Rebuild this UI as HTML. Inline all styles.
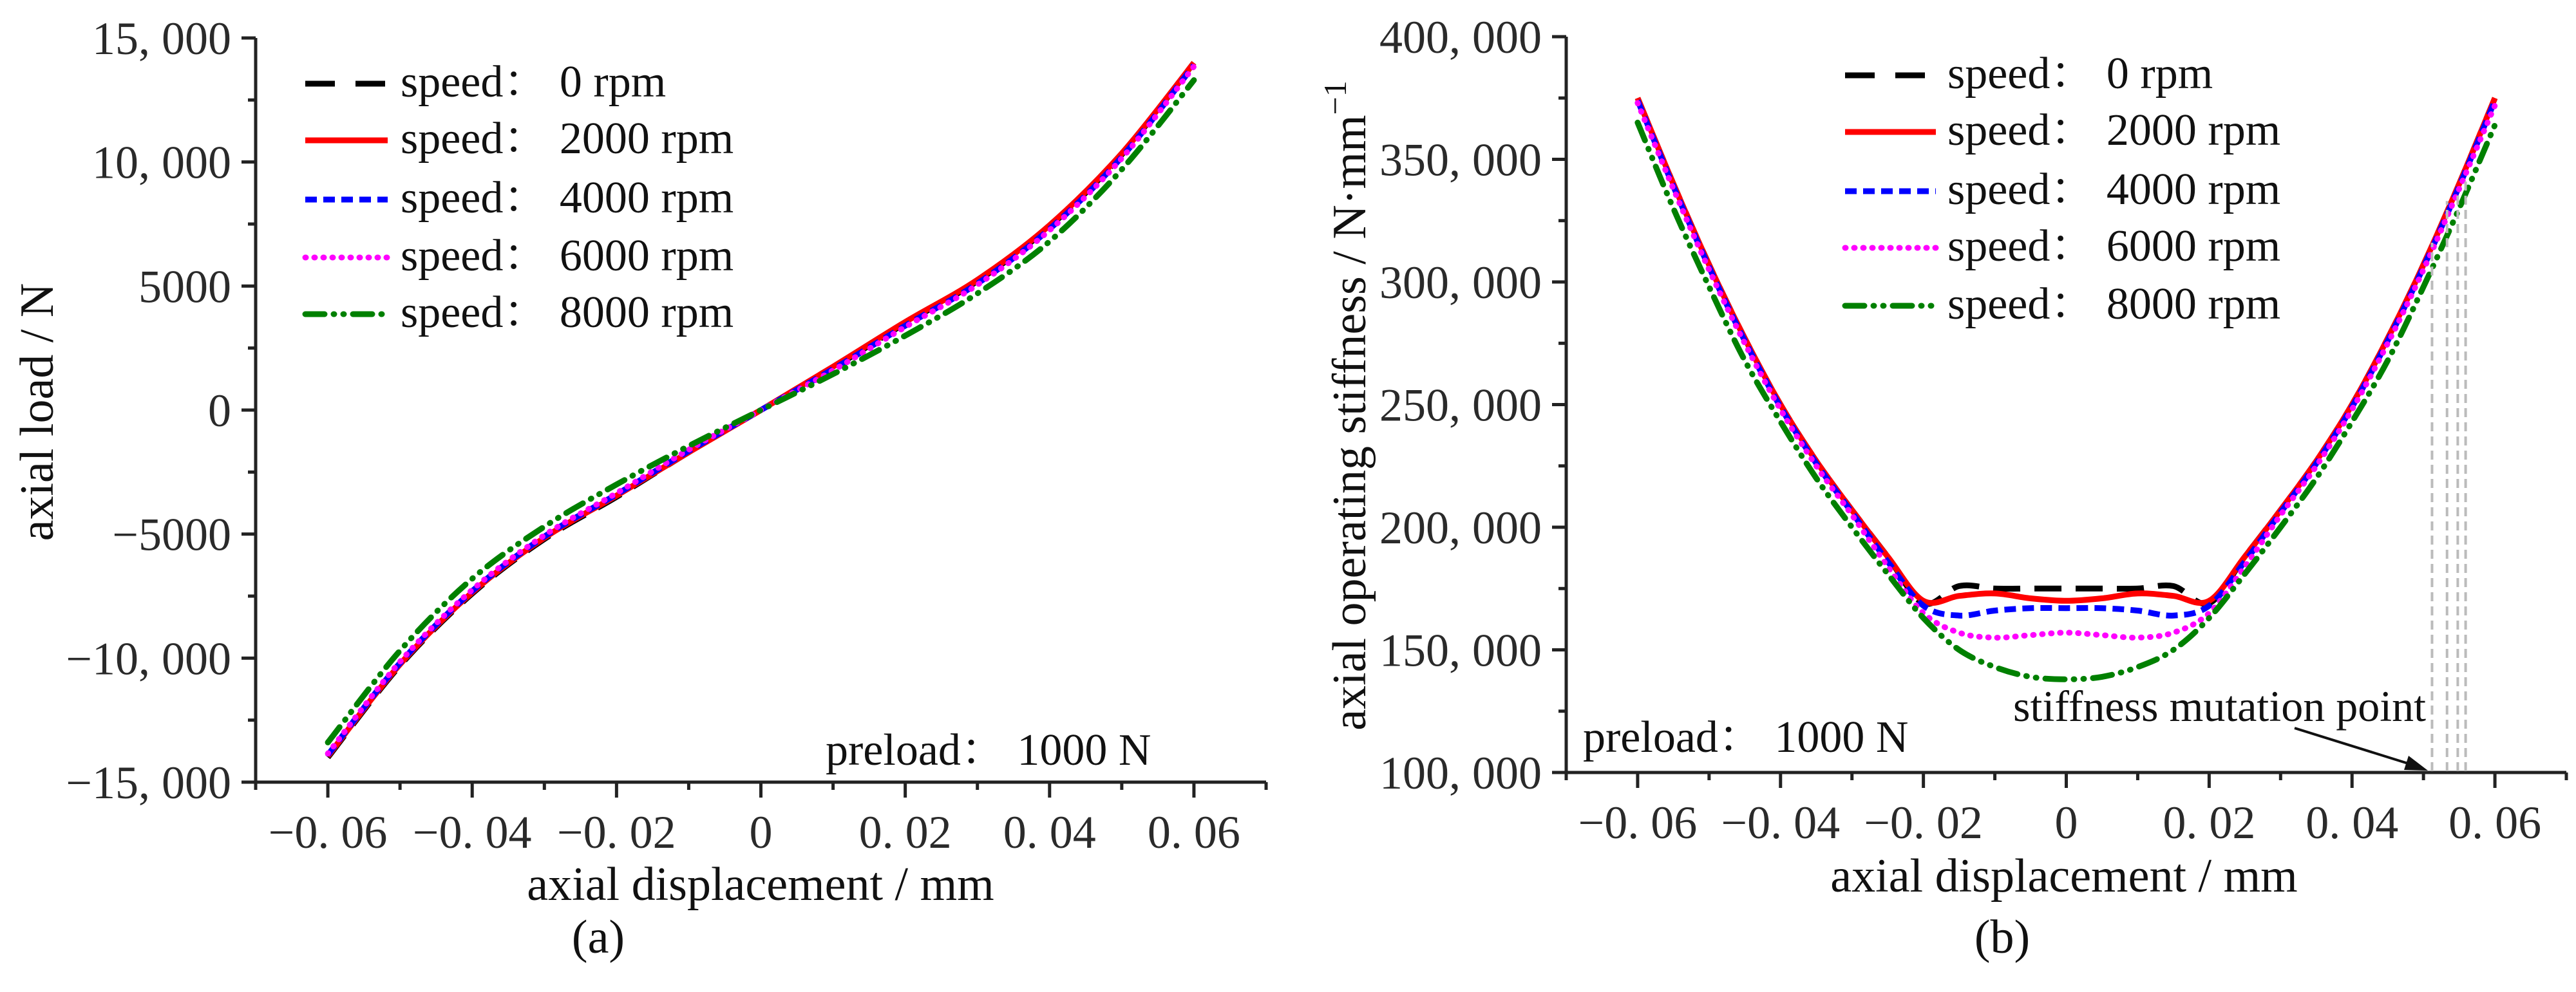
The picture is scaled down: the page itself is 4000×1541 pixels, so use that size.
<!DOCTYPE html>
<html><head><meta charset="utf-8"><style>
html,body{margin:0;padding:0;background:#fff;}
svg{display:block;}
text{font-family:"Liberation Serif","Noto Serif CJK SC","Noto Sans CJK SC",serif;}
</style></head><body>
<svg id="fig" width="4000" height="1541" viewBox="0 0 4000 1541" xmlns="http://www.w3.org/2000/svg"></svg>
<script>
// ---------- data: panel (a) ----------
const xA = [-0.06,-0.05,-0.04,-0.03,-0.02,-0.01,0,0.01,0.02,0.03,0.04,0.05,0.06];
const loadS0 = [-14000,-10300,-7400,-5200,-3500,-1700,0,1700,3500,5200,7400,10300,14000];
const loadS2000 = [-13950,-10250,-7350,-5150,-3450,-1700,0,1750,3550,5250,7450,10350,14000];
const loadS4000 = [-13900,-10200,-7300,-5100,-3400,-1650,0,1650,3400,5100,7300,10200,13900];
const loadS6000 = [-13850,-10150,-7250,-5050,-3350,-1600,0,1600,3350,5050,7250,10150,13850];
const loadS8000 = [-13400,-9700,-6800,-4700,-3000,-1450,0,1450,3000,4700,6800,9700,13300];
const yTicksA = [-15000,-10000,-5000,0,5000,10000,15000];
const yTickLabelsA = ["\u221215, 000","\u221210, 000","\u22125000","0","5000","10, 000","15, 000"];
const xTicks = [-0.06,-0.04,-0.02,0,0.02,0.04,0.06];
const xTickLabels = ["\u22120. 06","\u22120. 04","\u22120. 02","0","0. 02","0. 04","0. 06"];
// ---------- data: panel (b) ----------
const xB = [-0.06,-0.055,-0.05,-0.045,-0.04,-0.035,-0.03,-0.025,-0.02,-0.015,-0.01,-0.005,0,0.005,0.01,0.015,0.02,0.025,0.03,0.035,0.04,0.045,0.05,0.055,0.06];
const kS0 = [375,340,307,277,250,227,207,188,169,176,175,175,175,175,175,176,169,188,207,227,250,277,307,340,375];
const kS2000 = [375,340,307,277,250,227,207,188,170,172,173,171,170,171,173,172,170,188,207,227,250,277,307,340,375];
const kS4000 = [374,339,306,276,249,226,206,186,168,164,166,167,167,167,166,164,168,186,206,226,249,276,306,339,374];
const kS6000 = [373,338,305,275,248,225,205,184,165,157,155,156,157,156,155,157,165,184,205,225,248,275,305,338,372];
const kS8000 = [365,330,298,268,243,220,200,181,163,150,143,139,138,139,143,150,163,181,200,220,243,268,298,330,364];
const yTicksB = [100,150,200,250,300,350,400];
const yTickLabelsB = ["100, 000","150, 000","200, 000","250, 000","300, 000","350, 000","400, 000"];
const mutationX = [0.0512,0.0533,0.0548,0.0559];
const mutationTop = [316,333,336,342];
const seriesNames = ["speed\uff1a  0 rpm","speed\uff1a  2000 rpm","speed\uff1a  4000 rpm","speed\uff1a  6000 rpm","speed\uff1a  8000 rpm"];

const NS="http://www.w3.org/2000/svg";
const svg=document.getElementById('fig');
function mk(tag,attrs,parent){const e=document.createElementNS(NS,tag);for(const k in attrs)e.setAttribute(k,attrs[k]);(parent||svg).appendChild(e);return e;}
const styles=[
 {stroke:"#000",dash:"42 22"},
 {stroke:"#f00",dash:""},
 {stroke:"#00f",dash:"18 10"},
 {stroke:"#f0f",dash:"1 13"},
 {stroke:"#008000",dash:"30 14 1 14 1 14"}
];
function pathFrom(pts){
  let d="M"+pts[0][0].toFixed(1)+","+pts[0][1].toFixed(1);
  for(let i=0;i<pts.length-1;i++){
    const p0=pts[Math.max(0,i-1)],p1=pts[i],p2=pts[i+1],p3=pts[Math.min(pts.length-1,i+2)];
    const c1=[p1[0]+(p2[0]-p0[0])/6,p1[1]+(p2[1]-p0[1])/6];
    const c2=[p2[0]-(p3[0]-p1[0])/6,p2[1]-(p3[1]-p1[1])/6];
    d+=" C"+c1[0].toFixed(1)+","+c1[1].toFixed(1)+" "+c2[0].toFixed(1)+","+c2[1].toFixed(1)+" "+p2[0].toFixed(1)+","+p2[1].toFixed(1);
  }
  return d;
}
function panel(cfg){
  const g=mk('g',{});
  
  
  const X=v=>cfg.x0+(v-cfg.xmin)/(cfg.xmax-cfg.xmin)*(cfg.x1-cfg.x0);
  const Y=v=>cfg.y0-(v-cfg.ymin)/(cfg.ymax-cfg.ymin)*(cfg.y0-cfg.y1);
  const ax=mk('path',{d:`M${cfg.x0},${cfg.y1} L${cfg.x0},${cfg.y0} L${cfg.x1},${cfg.y0}`,fill:"none",stroke:"#222","stroke-width":5},g);
  
  
  for(let v=-0.07;v<=0.0701;v+=0.01){
    const vv=Math.round(v*100)/100;
    const major=Math.abs(Math.round(vv*100))%2===0;
    const t=mk('line',{x1:X(vv),x2:X(vv),y1:cfg.y0,y2:cfg.y0+(major?24:12),stroke:"#222","stroke-width":5},g);
    
    
  }
  xTicks.forEach((v,i)=>{
    const t=mk('text',{x:X(v),y:cfg.y0+102,"font-size":72,"text-anchor":"middle",fill:"#2a2a2a"},g);
    t.textContent=xTickLabels[i];
    
    
  });
  const step=(cfg.yt[1]-cfg.yt[0])/2;
  for(let v=cfg.ymin;v<=cfg.ymax+0.001;v+=step){
    const major=Math.round((v-cfg.ymin)/step)%2===0;
    const t=mk('line',{x1:cfg.x0,x2:cfg.x0-(major?22:12),y1:Y(v),y2:Y(v),stroke:"#222","stroke-width":5},g);
    
    
  }
  cfg.yt.forEach((v,i)=>{
    const t=mk('text',{x:cfg.x0-38,y:Y(v)+25,"font-size":72,"text-anchor":"end",fill:"#2a2a2a"},g);
    t.textContent=cfg.ytl[i];
    
    
  });
  cfg.series.forEach((arr,si)=>{
    const pts=cfg.xs.map((xv,i)=>[X(xv),Y(arr[i])]);
    const p=mk('path',{d:pathFrom(pts),fill:"none",stroke:styles[si].stroke,"stroke-width":9,"stroke-dasharray":styles[si].dash,"stroke-linecap":si===3||si===4?"round":"butt"},g);
    
    
  });
  return {X,Y,g};
}
const sname=["0rpm","2000rpm","4000rpm","6000rpm","8000rpm"];
const A=panel({name:"chart-a",x0:397,x1:1966,y0:1215,y1:59,xmin:-0.07,xmax:0.07,ymin:-15000,ymax:15000,yt:yTicksA,ytl:yTickLabelsA,xs:xA,series:[loadS0,loadS2000,loadS4000,loadS6000,loadS8000],sname});
const B=panel({name:"chart-b",x0:2432,x1:3985,y0:1200,y1:57,xmin:-0.07,xmax:0.07,ymin:100,ymax:400,yt:yTicksB,ytl:yTickLabelsB,xs:xB,series:[kS0,kS2000,kS4000,kS6000,kS8000],sname});

mutationX.forEach((v,i)=>{
  const l=mk('line',{x1:B.X(v),x2:B.X(v),y1:1198,y2:B.Y(mutationTop[i]),stroke:"#bbb","stroke-width":4,"stroke-dasharray":"14 8"},B.g);
  
  
});

function legend(lx0,lx1,tx,ys,parent){
  ys.forEach((y,i)=>{
    const l=mk('line',{x1:lx0,x2:lx1,y1:y-20,y2:y-20,stroke:styles[i].stroke,"stroke-width":9,"stroke-dasharray":i===0?"46 32":styles[i].dash,"stroke-linecap":i===3||i===4?"round":"butt"},parent);
    
    
    const t=mk('text',{x:tx,y:y,"font-size":70,fill:"#111"},parent);
    t.textContent=seriesNames[i];
    
    
  });
}
legend(474,602,622,[150,238,330,420,508],A.g);
legend(2865,3006,3024,[137,225,317,405,495],B.g);

function txt(s,attrs,name,parent){const t=mk('text',attrs,parent);t.textContent=s;return t;}
txt("preload\uff1a  1000 N",{x:1282,y:1188,"font-size":70,fill:"#111"},"preload-note-a",A.g);
txt("preload\uff1a  1000 N",{x:2458,y:1168,"font-size":70,fill:"#111"},"preload-note-b",B.g);
txt("stiffness mutation point",{x:3767,y:1120,"font-size":68,"text-anchor":"end",fill:"#111"},"mutation-annotation",B.g);
const ar=mk('line',{x1:3563,y1:1131,x2:3752,y2:1190,stroke:"#111","stroke-width":4},B.g);


const ah=mk('polygon',{points:"3770,1197 3740,1174 3733,1196",fill:"#111"},B.g);



txt("axial displacement / mm",{x:1181,y:1398,"font-size":74,"text-anchor":"middle",fill:"#111"},"x-axis-title-a",A.g);
txt("axial displacement / mm",{x:3205,y:1385,"font-size":74,"text-anchor":"middle",fill:"#111"},"x-axis-title-b",B.g);
txt("axial load / N",{x:0,y:0,"font-size":74,"text-anchor":"middle",fill:"#111",transform:"translate(82,640) rotate(-90)"},"y-axis-title-a",A.g);
const yt=mk('text',{x:0,y:0,"font-size":74,"text-anchor":"middle",fill:"#111",transform:"translate(2120,630) rotate(-90)"},B.g);


yt.appendChild(document.createTextNode("axial operating stiffness / N\u00b7mm"));
const sup=mk('tspan',{dy:-30,"font-size":50},yt);
sup.textContent="\u22121";
txt("(a)",{x:929,y:1480,"font-size":74,"text-anchor":"middle",fill:"#111"},"panel-label-a",A.g);
txt("(b)",{x:3109,y:1480,"font-size":74,"text-anchor":"middle",fill:"#111"},"panel-label-b",B.g);
</script>
</body></html>
